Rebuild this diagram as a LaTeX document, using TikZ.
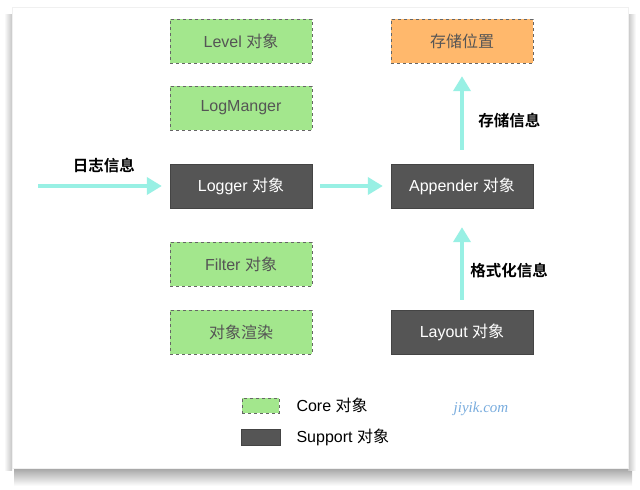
\documentclass[tikz,border=0pt]{standalone}
\usepackage{fontspec}
\setmainfont{Liberation Sans}
\newfontfamily\cjk{Noto Sans CJK SC}[BoldFont={Noto Sans CJK SC Bold}]
\newcommand\zh[1]{{\cjk #1}}
\usetikzlibrary{arrows.meta,shadings}

\definecolor{coregreen}{RGB}{163,231,141}
\definecolor{suppgray}{RGB}{85,85,85}
\definecolor{storeorange}{RGB}{255,184,108}
\definecolor{flowcyan}{RGB}{152,240,228}
\definecolor{markblue}{RGB}{120,172,222}

\begin{document}
\begin{tikzpicture}[x=1pt,y=-1pt,
    corebox/.style={draw=suppgray!90,dashed,fill=coregreen,minimum width=142pt,minimum height=44pt,
      text=suppgray,font=\fontsize{16}{18}\selectfont},
    suppbox/.style={draw=suppgray!80!black,fill=suppgray,minimum width=142pt,minimum height=44pt,
      text=white,font=\fontsize{16}{18}\selectfont},
    flow/.style={flowcyan,line width=4pt,-{Triangle[length=15pt,width=17pt]}},
    flowlabel/.style={font=\cjk\bfseries\fontsize{15.5}{17}\selectfont,text=black}]
    \useasboundingbox (0,0) rectangle (640,490);
    % card with its shadow
    \shade [top color=gray!80,bottom color=white] (14,466) rectangle (632,486);
    \shade [left color=white,right color=gray!45] (4,14) rectangle (12,470);
    \shade [left color=gray!45,right color=white] (628,14) rectangle (636,470);
    \fill [white] (12,7) rectangle (628,468);
    \draw [gray!12] (12,7) rectangle (628,468);
    % objects
    \node [corebox] (lvl) at (241,41) {Level \zh{对象}};
    \node [corebox] (mgr) at (241,108) {LogManger};
    \node [suppbox] (logger) at (241,186) {Logger \zh{对象}};
    \node [corebox] (filter) at (241,264) {Filter \zh{对象}};
    \node [corebox] (render) at (241,332) {\zh{对象渲染}};
    \node [corebox,fill=storeorange] (store) at (462,41) {\zh{存储位置}};
    \node [suppbox] (appender) at (462,186) {Appender \zh{对象}};
    \node [suppbox] (layout) at (462,332) {Layout \zh{对象}};
    \coordinate (msgin) at (38,186);
    % flows
    \draw [flow,shorten >=8pt] (msgin) -- (logger) node [midway,above=8pt,flowlabel] {日志信息};
    \draw [flow,shorten <=8pt,shorten >=8pt] (logger) -- (appender);
    \draw [flow,shorten <=14pt,shorten >=13pt] (appender) -- (store)
      node [pos=0.43,anchor=west,xshift=11pt,flowlabel] {存储信息};
    \draw [flow,shorten <=10pt,shorten >=19pt] (layout) -- (appender)
      node [pos=0.39,anchor=west,xshift=3pt,flowlabel] {格式化信息};
    % legend
    \node [corebox,minimum width=37pt,minimum height=15pt] (keycore) at (260.5,405.5) {};
    \node [suppbox,minimum width=39pt,minimum height=16pt] (keysupp) at (260.5,437) {};
    \node [anchor=west,font=\fontsize{16}{18}\selectfont] (keycoretxt) at (293,405) {Core \zh{对象}};
    \node [anchor=west,font=\fontsize{16}{18}\selectfont] (keysupptxt) at (293,437) {Support \zh{对象}};
    \node [text=markblue,font=\fontspec{Liberation Serif}\itshape\fontsize{15}{17}\selectfont] (mark) at (481,409) {jiyik.com};
\end{tikzpicture}
\end{document}
